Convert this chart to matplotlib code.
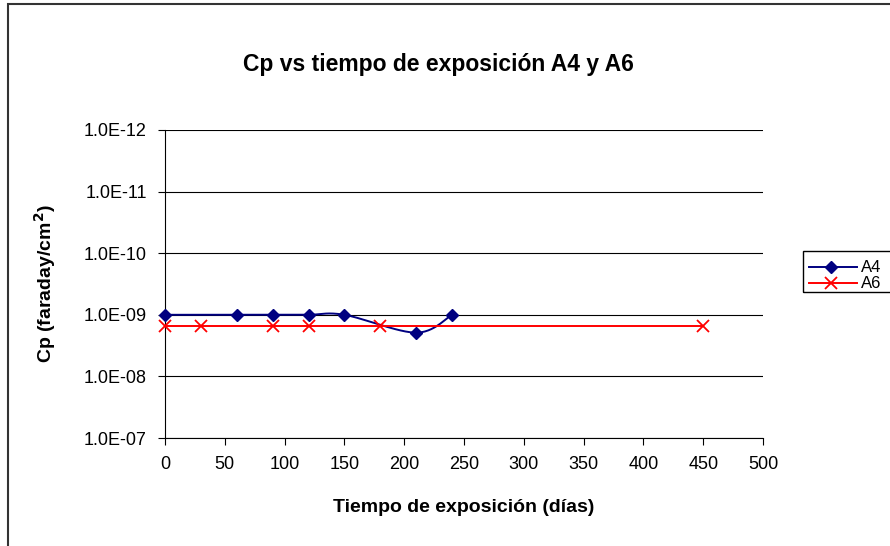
import numpy as np
import matplotlib
matplotlib.use("Agg")
import matplotlib.pyplot as plt
from matplotlib.ticker import FixedLocator, FixedFormatter, NullLocator
from matplotlib.patches import Rectangle

plt.rcParams['font.family'] = ['Liberation Sans', 'DejaVu Sans']

title = "Cp vs tiempo de exposición A4 y A6"
xlabel = "Tiempo de exposición (días)"
ylabel = "Cp (faraday/cm$^{\\mathbf{2}}$)"

a4_days = [0, 60, 90, 120, 150, 210, 240]
a4_cp = [1.0e-9, 1.0e-9, 1.0e-9, 1.0e-9, 1.0e-9, 1.95e-9, 1.0e-9]
a6_days = [0, 30, 90, 120, 180, 450]
a6_cp = [1.5e-9, 1.5e-9, 1.5e-9, 1.5e-9, 1.5e-9, 1.5e-9]

y_ticks = [1e-12, 1e-11, 1e-10, 1e-9, 1e-8, 1e-7]
y_labels = ["1.0E-12", "1.0E-11", "1.0E-10", "1.0E-09", "1.0E-08", "1.0E-07"]
x_ticks = list(range(0, 501, 50))


def smooth(xs, ys, n=30):
    # Catmull-Rom style smoothing in (x, log10 y) space, like Excel's smoothed line
    x = np.array(xs, float)
    y = np.log10(np.array(ys, float))
    px = np.concatenate([[x[0]], x, [x[-1]]])
    py = np.concatenate([[y[0]], y, [y[-1]]])
    ox, oy = [], []
    for i in range(1, len(px) - 2):
        t = np.linspace(0, 1, n)
        p0, p1, p2, p3 = [np.array([px[j], py[j]]) for j in range(i - 1, i + 3)]
        c1 = p1 + (p2 - p0) / 6
        c2 = p2 - (p3 - p1) / 6
        pts = ((1 - t) ** 3)[:, None] * p1 + (3 * (1 - t) ** 2 * t)[:, None] * c1 \
            + (3 * (1 - t) * t ** 2)[:, None] * c2 + (t ** 3)[:, None] * p2
        ox.extend(pts[:, 0]); oy.extend(pts[:, 1])
    return np.array(ox), 10 ** np.array(oy)


W, H = 890, 546
fig = plt.figure(figsize=(W / 100, H / 100), dpi=100)
fig.patches.append(Rectangle((8 / W, -0.1), 1, 1.1 - 4 / H, transform=fig.transFigure,
                             fill=False, edgecolor='#333333', linewidth=1.5))
ax = fig.add_axes([165 / W, 1 - 438 / H, (763 - 165) / W, (438 - 130) / H])

ax.set_yscale('log')
ax.set_ylim(1e-7, 1e-12)
ax.set_xlim(0, 500)
ax.yaxis.set_major_locator(FixedLocator(y_ticks))
ax.yaxis.set_major_formatter(FixedFormatter(y_labels))
ax.yaxis.set_minor_locator(NullLocator())
ax.set_xticks(x_ticks)
for yv in y_ticks:
    ax.axhline(yv, color='black', linewidth=0.8, zorder=0)

sx, sy = smooth(a4_days, a4_cp)
ax.plot(sx, sy, color='#000080', linewidth=1.4, zorder=3)
ax.plot(a4_days, a4_cp, linestyle='none', marker='D', markersize=6.5,
        color='#000080', zorder=4, clip_on=False)
ax.plot(a6_days, a6_cp, color='#ff0000', linewidth=1.4, marker='x',
        markersize=9, markeredgewidth=1.3, zorder=3, clip_on=False)

for s in ['top', 'right']:
    ax.spines[s].set_visible(False)
ax.spines['left'].set_color('black')
ax.spines['bottom'].set_color('black')
ax.tick_params(axis='both', labelsize=13, length=5, direction='out', color='black')
ax.tick_params(axis='y', pad=8)
ax.tick_params(axis='x', pad=8)

fig.text(438 / W, 1 - 65 / H, title, fontsize=16.5, fontweight='bold',
         ha='center', va='center')
ax.set_xlabel(xlabel, fontsize=14, fontweight='bold')
ax.xaxis.set_label_coords(0.5, (438 - 508) / 308)
ax.xaxis.label.set_va('center')
ax.set_ylabel(ylabel, fontsize=14, fontweight='bold')
ax.yaxis.set_label_coords((45 - 165) / 598, 0.5)
ax.yaxis.label.set_va('center')

# Legend (partially cut off at right, as in reference)
fig.patches.append(Rectangle((803 / W, 1 - 292 / H), 0.2, 41 / H, transform=fig.transFigure,
                             fill=False, edgecolor='black', linewidth=1))
y1 = 1 - 267 / H
y2 = 1 - 283 / H
fig.add_artist(plt.Line2D([809 / W, 857 / W], [y1, y1], color='#000080',
                          linewidth=1.4, transform=fig.transFigure))
fig.add_artist(plt.Line2D([831 / W], [y1], color='#000080', marker='D', markersize=6.5,
                          linestyle='none', transform=fig.transFigure))
fig.add_artist(plt.Line2D([809 / W, 857 / W], [y2, y2], color='#ff0000',
                          linewidth=1.4, transform=fig.transFigure))
fig.add_artist(plt.Line2D([831 / W], [y2], color='#ff0000', marker='x', markersize=9,
                          markeredgewidth=1.3, linestyle='none', transform=fig.transFigure))
fig.text(861 / W, y1, "A4", fontsize=12, va='center', ha='left')
fig.text(861 / W, y2, "A6", fontsize=12, va='center', ha='left')

fig.savefig("out.png", dpi=100)
